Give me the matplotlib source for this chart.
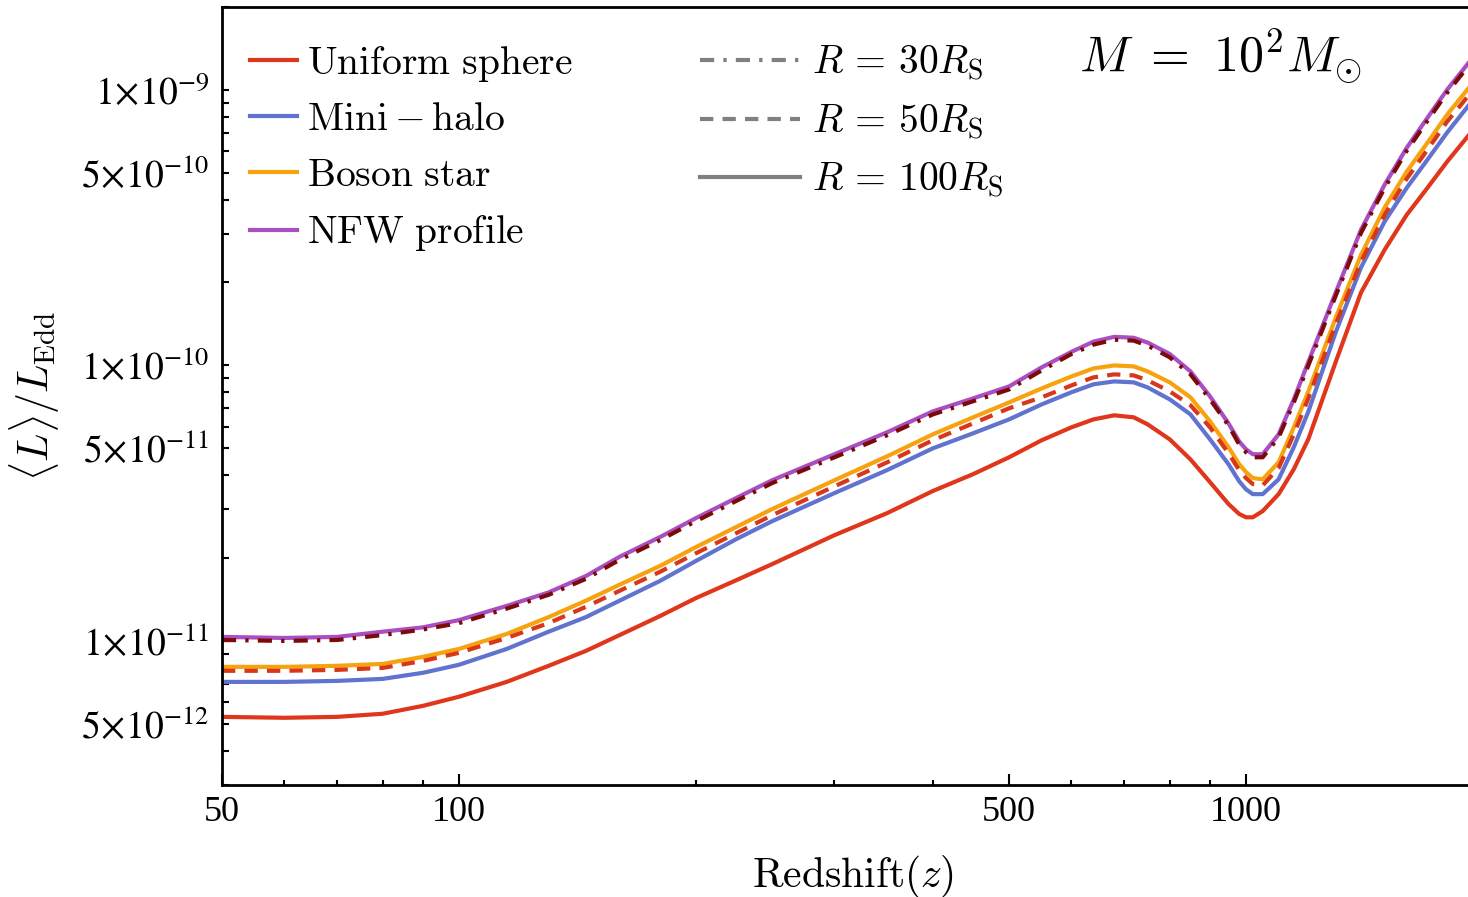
import matplotlib
matplotlib.use("Agg")
import matplotlib.pyplot as plt
from matplotlib.lines import Line2D
from matplotlib.ticker import FixedLocator, FixedFormatter, NullFormatter

plt.rcParams['font.family'] = ['Liberation Serif', 'DejaVu Serif']
plt.rcParams['mathtext.fontset'] = 'stix'

# redshift grid
z = [50, 60, 70, 80, 90, 100, 115, 130, 145, 160, 180, 200, 225, 250, 300,
     350, 400, 450, 500, 550, 600, 640, 680, 720, 750, 800, 850, 900, 950,
     980, 1000, 1020, 1050, 1100, 1150, 1200, 1300, 1400, 1500, 1600, 1700,
     1800, 1920]

uniform_sphere = [5.30e-12, 5.26e-12, 5.30e-12, 5.44e-12, 5.81e-12, 6.27e-12,
                  7.10e-12, 8.12e-12, 9.20e-12, 1.05e-11, 1.23e-11, 1.43e-11,
                  1.66e-11, 1.90e-11, 2.42e-11, 2.91e-11, 3.50e-11, 4.03e-11,
                  4.64e-11, 5.35e-11, 5.96e-11, 6.37e-11, 6.59e-11, 6.48e-11,
                  6.11e-11, 5.39e-11, 4.56e-11, 3.77e-11, 3.14e-11, 2.89e-11,
                  2.81e-11, 2.81e-11, 2.96e-11, 3.41e-11, 4.20e-11, 5.40e-11,
                  1.03e-10, 1.84e-10, 2.63e-10, 3.52e-10, 4.41e-10, 5.48e-10,
                  6.87e-10]
mini_halo = [7.10e-12, 7.10e-12, 7.16e-12, 7.28e-12, 7.66e-12, 8.19e-12,
             9.35e-12, 1.08e-11, 1.22e-11, 1.40e-11, 1.65e-11, 1.95e-11,
             2.34e-11, 2.72e-11, 3.44e-11, 4.17e-11, 5.00e-11, 5.67e-11,
             6.37e-11, 7.22e-11, 7.99e-11, 8.54e-11, 8.75e-11, 8.68e-11,
             8.32e-11, 7.53e-11, 6.64e-11, 5.39e-11, 4.38e-11, 3.80e-11,
             3.55e-11, 3.41e-11, 3.41e-11, 3.86e-11, 5.05e-11, 6.80e-11,
             1.32e-10, 2.27e-10, 3.33e-10, 4.41e-10, 5.58e-10, 6.99e-10,
             8.82e-10]
boson_star = [8.05e-12, 8.05e-12, 8.12e-12, 8.25e-12, 8.75e-12, 9.35e-12,
              1.06e-11, 1.22e-11, 1.40e-11, 1.60e-11, 1.87e-11, 2.19e-11,
              2.59e-11, 3.01e-11, 3.83e-11, 4.68e-11, 5.62e-11, 6.48e-11,
              7.34e-11, 8.25e-11, 9.12e-11, 9.75e-11, 1.00e-10, 9.92e-11,
              9.51e-11, 8.68e-11, 7.66e-11, 6.27e-11, 5.05e-11, 4.38e-11,
              4.10e-11, 3.90e-11, 3.86e-11, 4.45e-11, 5.96e-11, 8.05e-11,
              1.49e-10, 2.52e-10, 3.74e-10, 5.05e-10, 6.43e-10, 8.12e-10,
              1.02e-09]
nfw_profile = [1.034e-11, 1.025e-11, 1.034e-11, 1.08e-11, 1.12e-11, 1.19e-11,
               1.34e-11, 1.50e-11, 1.72e-11, 2.02e-11, 2.38e-11, 2.79e-11,
               3.30e-11, 3.83e-11, 4.76e-11, 5.72e-11, 6.81e-11, 7.59e-11,
               8.39e-11, 9.84e-11, 1.12e-10, 1.22e-10, 1.27e-10, 1.26e-10,
               1.21e-10, 1.10e-10, 9.51e-11, 7.72e-11, 6.16e-11, 5.30e-11,
               4.96e-11, 4.76e-11, 4.76e-11, 5.62e-11, 7.53e-11, 1.03e-10,
               1.84e-10, 3.11e-10, 4.53e-10, 6.16e-10, 7.92e-10, 1.00e-09,
               1.26e-09]
# the two broken curves (dark/mid red)
dashed_r50 = [7.79e-12, 7.79e-12, 7.85e-12, 7.98e-12, 8.46e-12, 9.05e-12,
              1.025e-11, 1.16e-11, 1.33e-11, 1.52e-11, 1.78e-11, 2.08e-11,
              2.46e-11, 2.86e-11, 3.64e-11, 4.45e-11, 5.35e-11, 6.16e-11,
              6.99e-11, 7.66e-11, 8.46e-11, 9.05e-11, 9.28e-11, 9.20e-11,
              8.83e-11, 8.05e-11, 7.17e-11, 5.96e-11, 4.80e-11, 4.17e-11,
              3.90e-11, 3.71e-11, 3.67e-11, 4.24e-11, 5.62e-11, 7.60e-11,
              1.41e-10, 2.38e-10, 3.52e-10, 4.76e-10, 6.06e-10, 7.66e-10,
              9.59e-10]
dashdot_r30 = [1.008e-11, 1.000e-11, 1.008e-11, 1.05e-11, 1.10e-11, 1.16e-11,
               1.31e-11, 1.47e-11, 1.68e-11, 1.97e-11, 2.32e-11, 2.72e-11,
               3.22e-11, 3.74e-11, 4.64e-11, 5.58e-11, 6.64e-11, 7.41e-11,
               8.18e-11, 9.59e-11, 1.10e-10, 1.19e-10, 1.24e-10, 1.23e-10,
               1.18e-10, 1.07e-10, 9.28e-11, 7.53e-11, 6.06e-11, 5.17e-11,
               4.84e-11, 4.64e-11, 4.64e-11, 5.48e-11, 7.34e-11, 1.00e-10,
               1.79e-10, 3.03e-10, 4.41e-10, 6.01e-10, 7.72e-10, 9.75e-10,
               1.23e-09]

profile_labels = [r'$\mathrm{Uniform\ sphere}$', r'$\mathrm{Mini}-\mathrm{halo}$',
                  r'$\mathrm{Boson\ star}$', r'$\mathrm{NFW\ profile}$']
radius_labels = [r'$R\,=\,30R_{\mathrm{S}}$', r'$R\,=\,50R_{\mathrm{S}}$',
                 r'$R\,=\,100R_{\mathrm{S}}$']

x_major = [50, 100, 500, 1000]
x_minor = [60, 70, 80, 90, 200, 300, 400, 600, 700, 800, 900, 2000]
y_major = [5e-12, 1e-11, 5e-11, 1e-10, 5e-10, 1e-9]
y_major_labels = [r'$5\!\times\!10^{-12}$', r'$1\!\times\!10^{-11}$',
                  r'$5\!\times\!10^{-11}$', r'$1\!\times\!10^{-10}$',
                  r'$5\!\times\!10^{-10}$', r'$1\!\times\!10^{-9}$']

colors = ['#e0361c', '#5f73cf', '#f7a20f', '#a94fc2']

fig = plt.figure(figsize=(14.68, 8.97), dpi=100)
ax = fig.add_axes([0.1512, 0.1249, 0.859, 0.8673])

lw = 3.0
for vals, c in zip([uniform_sphere, mini_halo, boson_star, nfw_profile], colors):
    ax.plot(z, vals, color=c, lw=lw, solid_joinstyle='round')
ax.plot(z, dashed_r50, color='#d8371a', lw=lw, dashes=(3.2, 2.2))
ax.plot(z, dashdot_r30, color='#7d0a0a', lw=lw, dashes=(3.4, 2.2, 0.8, 2.2))

ax.set_xscale('log')
ax.set_yscale('log')
ax.set_xlim(50, 2000)
ax.set_ylim(3e-12, 2e-9)

ax.xaxis.set_major_locator(FixedLocator(x_major))
ax.xaxis.set_major_formatter(FixedFormatter([str(v) for v in x_major]))
ax.xaxis.set_minor_locator(FixedLocator(x_minor))
ax.xaxis.set_minor_formatter(NullFormatter())
y_minor = [m * 10.0 ** e for e in range(-12, -8) for m in range(1, 10)]
y_minor = [v for v in y_minor if v not in y_major]
ax.yaxis.set_major_locator(FixedLocator(y_major))
ax.yaxis.set_major_formatter(FixedFormatter(y_major_labels))
ax.yaxis.set_minor_locator(FixedLocator(y_minor))
ax.yaxis.set_minor_formatter(NullFormatter())

ax.tick_params(axis='both', which='both', direction='in', top=False, right=False,
               width=1.5, colors='black')
ax.tick_params(axis='x', which='major', length=8, labelsize=26, pad=8)
ax.tick_params(axis='x', which='minor', length=3.5)
ax.tick_params(axis='y', which='major', length=5, labelsize=27, pad=9)
ax.tick_params(axis='y', which='minor', length=5)
for s in ax.spines.values():
    s.set_linewidth(2)

ax.set_xlabel(r'$\mathrm{Redshift}(z)$', fontsize=30, math_fontfamily='cm',
              labelpad=17)
ax.set_ylabel(r'$\langle L\rangle/L_{\mathrm{Edd}}$', fontsize=30,
              math_fontfamily='cm', labelpad=14)

ax.text(0.680, 0.938, r'$M\ =\ 10^2 M_{\odot}$', transform=ax.transAxes,
        fontsize=36, math_fontfamily='cm', va='center', ha='left')

h1 = [Line2D([], [], color=c, lw=lw) for c in colors]
leg1 = ax.legend(h1, profile_labels, loc='upper left',
                 bbox_to_anchor=(0.022, 0.953), frameon=False, fontsize=28.5,
                 handlelength=1.19, handletextpad=0.25, labelspacing=0.47,
                 borderpad=0, borderaxespad=0)
for t in leg1.get_texts():
    t.set_math_fontfamily('cm')
ax.add_artist(leg1)

grey = '#808080'
h2 = [Line2D([], [], color=grey, lw=lw, dashes=(3.4, 2.2, 0.8, 2.2)),
      Line2D([], [], color=grey, lw=lw, dashes=(3.2, 2.2)),
      Line2D([], [], color=grey, lw=lw)]
leg2 = ax.legend(h2, radius_labels, loc='upper left',
                 bbox_to_anchor=(0.379, 0.953), frameon=False, fontsize=28.5,
                 handlelength=2.52, handletextpad=0.3, labelspacing=0.47,
                 borderpad=0, borderaxespad=0)
for t in leg2.get_texts():
    t.set_math_fontfamily('cm')

fig.savefig('out.png', dpi=100)
